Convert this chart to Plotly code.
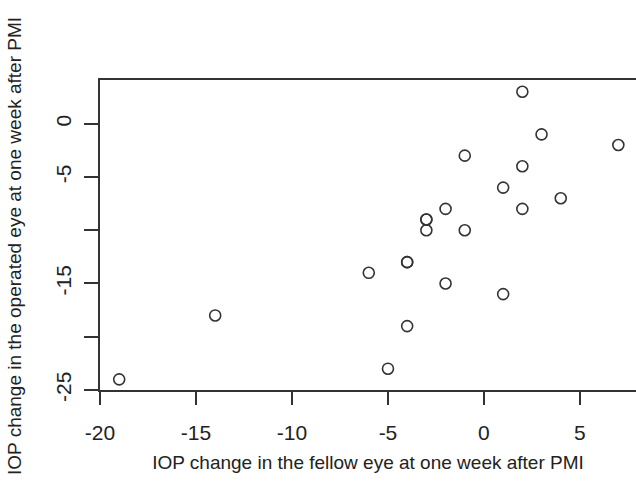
import plotly.graph_objects as go

# IOP change in the fellow eye (x) vs operated eye (y), one week after PMI
fellow_eye = [-19, -14, -6, -5, -4, -4, -4, -3, -3, -3, -2, -2, -1, -1, 1, 1, 2, 2, 2, 3, 4, 7]
operated_eye = [-24, -18, -14, -23, -19, -13, -13, -9, -9, -10, -8, -15, -3, -10, -6, -16, 3, -4, -8, -1, -7, -2]

x_ticks = [-20, -15, -10, -5, 0, 5]
y_ticks = [0, -5, -10, -15, -20, -25]
y_tick_text = ["0", "-5", "", "-15", "", "-25"]

FONT = "Liberation Sans, Arial, sans-serif"
INK = "#333333"

fig = go.Figure()
fig.add_trace(go.Scatter(
    x=fellow_eye, y=operated_eye, mode="markers",
    marker=dict(symbol="circle-open", size=11, color=INK, line=dict(width=1.6, color=INK)),
    showlegend=False, hoverinfo="x+y",
))

fig.update_layout(
    width=636, height=484,
    margin=dict(l=100, r=0, t=80, b=94),
    paper_bgcolor="white", plot_bgcolor="white",
    font=dict(family=FONT, color="#222222"),
    xaxis=dict(
        range=[-20, 7.92], tickvals=x_ticks, ticktext=[str(v) for v in x_ticks],
        showgrid=False, zeroline=False, automargin=False,
        showline=True, linecolor=INK, linewidth=1.5, mirror=True,
        ticks="outside", ticklen=13, tickwidth=1.5, tickcolor=INK,
        tickfont=dict(size=21, family=FONT, color="#222222"),
        ticklabelstandoff=10,
        title=dict(text="IOP change in the fellow eye at one week after PMI",
                   font=dict(size=19, family=FONT, color="#222222"), standoff=13),
    ),
    yaxis=dict(
        range=[-25, 4.1], tickvals=y_ticks, ticktext=y_tick_text,
        showgrid=False, zeroline=False, automargin=False,
        showline=True, linecolor=INK, linewidth=1.5, mirror=False,
        ticks="outside", ticklen=14, tickwidth=1.5, tickcolor=INK,
        tickangle=-90,
        tickfont=dict(size=21, family=FONT, color="#222222"),
        ticklabelstandoff=5,
    ),
    annotations=[dict(
        text="IOP change in the operated eye at one week after PMI",
        xref="paper", yref="paper", x=(15 - 100) / 536, y=(390 - 246) / 310,
        xanchor="center", yanchor="middle", textangle=-90, showarrow=False,
        font=dict(size=19, family=FONT, color="#222222"),
    )],
)

fig.write_html("out.html", config={"displayModeBar": False},
               post_script="document.body.style.margin='0';")
